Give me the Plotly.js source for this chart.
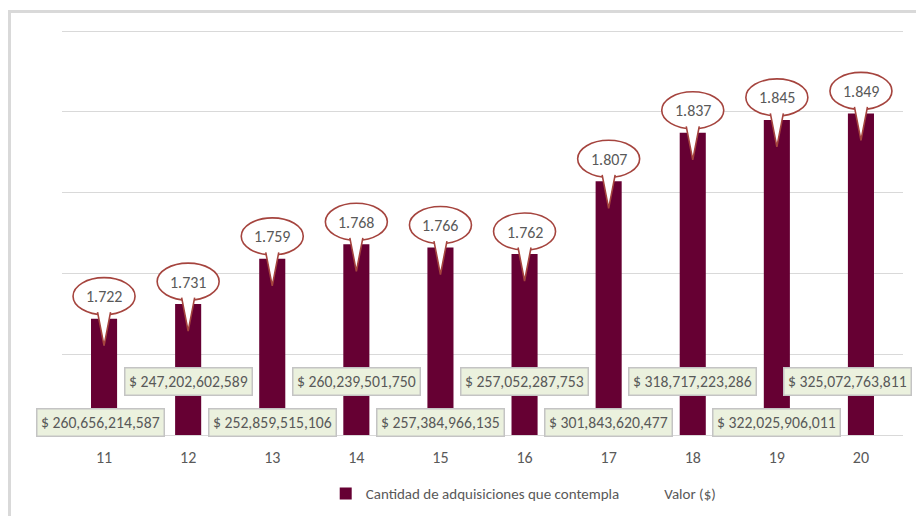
<!DOCTYPE html>
<html>
<head>
<meta charset="utf-8">
<script src="https://cdn.plot.ly/plotly-3.0.1.min.js"></script>
<style>
  html, body { margin: 0; padding: 0; background: #ffffff; overflow: hidden; }
  #chart { position: absolute; left: 0; top: 0; width: 916px; height: 516px; }
  #frame { position: absolute; left: 8px; top: 10px; width: 1000px; height: 1000px;
           border-top: 3px solid #d9d9d9; border-left: 3px solid #d9d9d9; pointer-events: none; }
</style>
</head>
<body>
<div id="chart"></div>
<div id="frame"></div>
<script>
// ---- data ----
const categories = ['11', '12', '13', '14', '15', '16', '17', '18', '19', '20'];
const adquisiciones = [1722, 1731, 1759, 1768, 1766, 1762, 1807, 1837, 1845, 1849];
const valores = [260656214587, 247202602589, 252859515106, 260239501750, 257384966135,
                 257052287753, 301843620477, 318717223286, 322025906011, 325072763811];
const seriesNames = ['Cantidad de adquisiciones que contempla', 'Valor ($)'];

// ---- styles ----
const FONT = "Carlito, 'Liberation Sans Narrow', 'DejaVu Sans Condensed', 'Liberation Sans', sans-serif";
const TEXT = '#595959';
const BAR = '#660033';
const BUBBLE = '#a5443e';

function groupDigits(n, sep) {
  return String(n).replace(/\B(?=(\d{3})+(?!\d))/g, sep);
}

const traces = [
  {
    type: 'bar', name: seriesNames[0], x: categories, y: adquisiciones,
    marker: { color: BAR }, hoverinfo: 'skip'
  },
  {
    type: 'scatter', mode: 'lines', name: seriesNames[1], x: categories, y: valores,
    yaxis: 'y2', line: { color: 'rgba(0,0,0,0)', width: 0 }, hoverinfo: 'skip'
  }
];

const shapes = [];
const annotations = [];
const last = categories.length - 1;
categories.forEach((c, i) => {
  // i = category position on the category axis
  shapes.push({
    type: 'circle', xref: 'x', yref: 'y', xsizemode: 'pixel', ysizemode: 'pixel',
    xanchor: i, yanchor: adquisiciones[i], x0: -31, x1: 31, y0: 4, y1: 41,
    fillcolor: '#ffffff', line: { color: BUBBLE, width: 1.6 }
  });
  shapes.push({
    type: 'path', xref: 'x', yref: 'y', xsizemode: 'pixel', ysizemode: 'pixel',
    xanchor: i, yanchor: adquisiciones[i], path: 'M -6.5 6.5 L 0 -27 L 6.5 6.5',
    fillcolor: '#ffffff', line: { color: BUBBLE, width: 1.6 }
  });
  annotations.push({
    xref: 'x', yref: 'y', x: i, y: adquisiciones[i], yshift: 22, showarrow: false,
    text: groupDigits(adquisiciones[i], '.'), font: { family: FONT, size: 16, color: TEXT }
  });
  annotations.push({
    xref: 'x', yref: 'paper', x: i, y: (i % 2 === 0) ? 0.032 : 0.131, yanchor: 'middle',
    xshift: i === last ? -13 : (i === 0 ? -4 : 0),
    showarrow: false, text: '$ ' + groupDigits(valores[i], ','),
    font: { family: FONT, size: 15.7, color: TEXT },
    bgcolor: '#ebf1de', bordercolor: '#c4c4c4', borderwidth: 1.5, borderpad: 3.5
  });
});

const layout = {
  width: 916, height: 516,
  margin: { l: 62, r: 13, t: 29, b: 81, autoexpand: false },
  paper_bgcolor: '#ffffff', plot_bgcolor: '#ffffff',
  font: { family: FONT, color: TEXT, size: 15 },
  bargap: 0.69,
  showlegend: true,
  legend: {
    orientation: 'h', x: 0.549, xanchor: 'center', y: -0.145, yanchor: 'middle',
    font: { family: FONT, size: 15, color: TEXT }, itemwidth: 30
  },
  xaxis: {
    type: 'category', showgrid: false, showline: true, linecolor: '#d9d9d9', linewidth: 1,
    ticks: '', ticklabelstandoff: 8, tickfont: { family: FONT, size: 16, color: TEXT },
    fixedrange: true, range: [-0.5, categories.length - 0.5]
  },
  yaxis: {
    range: [1650, 1901.24], tick0: 1650, dtick: 50, showticklabels: false, showgrid: true,
    gridcolor: '#d9d9d9', gridwidth: 1, zeroline: false, ticks: '', fixedrange: true
  },
  yaxis2: {
    overlaying: 'y', side: 'right', visible: false, range: [0, 400000000000], fixedrange: true
  },
  shapes: shapes,
  annotations: annotations
};

Plotly.newPlot('chart', traces, layout, { displayModeBar: false, staticPlot: true });
</script>
</body>
</html>
